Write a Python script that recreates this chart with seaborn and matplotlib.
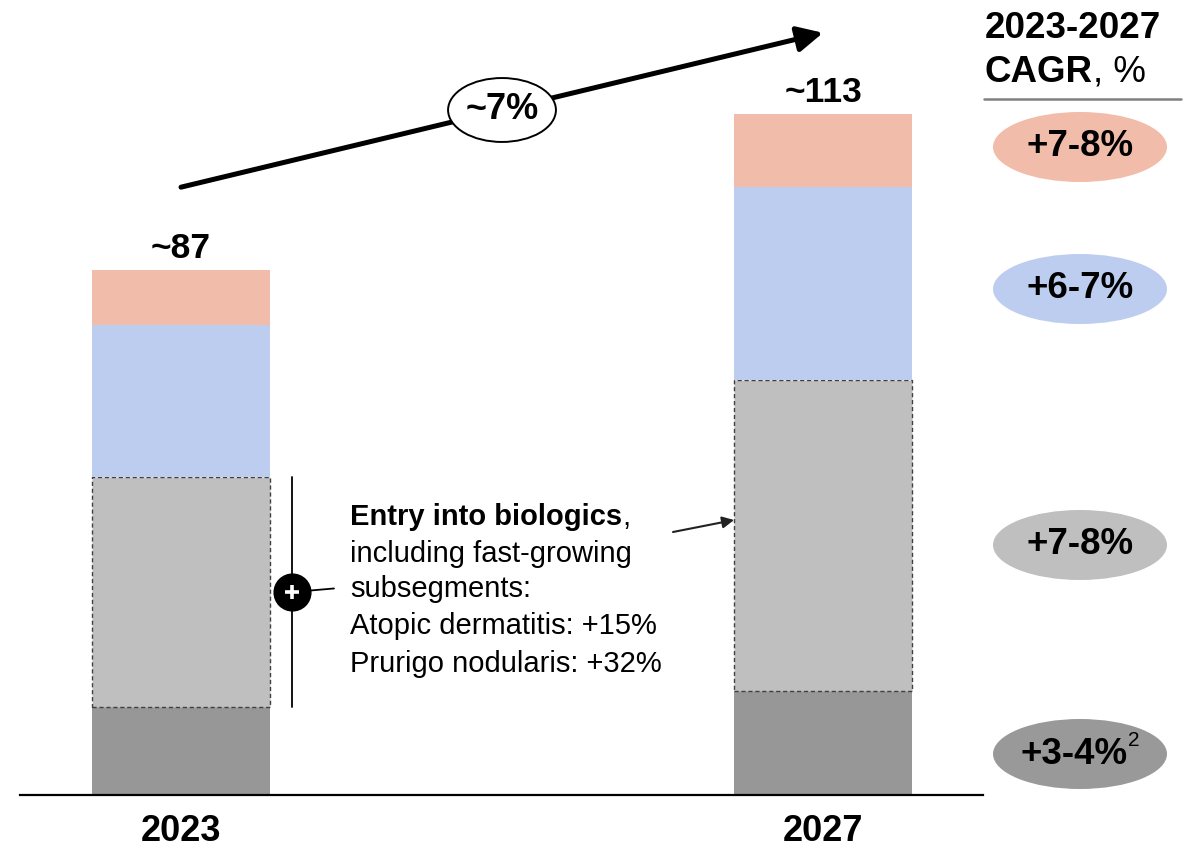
import matplotlib
matplotlib.use("Agg")
import matplotlib.pyplot as plt
from matplotlib.patches import Ellipse
import seaborn as sns
import numpy as np

# ---- data ----
years = ["2023", "2027"]
core = [14.6, 17.2]          # dark grey base segment
biologics = [38.1, 51.6]     # light grey, dashed outline
segment_blue = [25.2, 32.0]
segment_pink = [9.1, 12.2]
segment_colors = ["#979797", "#BFBFBF", "#BDCDF0", "#F2BCAA"]
cagr_labels = ["+3-4%", "+7-8%", "+6-7%", "+7-8%"]   # bottom to top
total_cagr = "~7%"
header_line1 = "2023-2027"
note_lines = ["including fast-growing", "subsegments:",
              "Atopic dermatitis: +15%", "Prurigo nodularis: +32%"]

W, H = 1195, 846
sns.set_theme(style="white")
plt.rcParams["font.family"] = ["Liberation Sans", "DejaVu Sans"]
plt.rcParams["text.color"] = "black"
plt.rcParams["xtick.color"] = "black"
plt.rcParams["xtick.labelcolor"] = "black"

fig = plt.figure(figsize=(W / 100, H / 100), dpi=100)
ax = fig.add_axes([20 / W, 51 / H, 963 / W, 795 / H])

segments = [core, biologics, segment_blue, segment_pink]
bottom = np.zeros(len(years))
for i, (vals, col) in enumerate(zip(segments, segment_colors)):
    if i == 1:
        kw = dict(edgecolor="#404040", linestyle=(0, (3, 2)), linewidth=1.0)
    else:
        kw = dict(linewidth=0)
    sns.barplot(x=years, y=vals, bottom=bottom, color=col, width=0.277,
                saturation=1, ax=ax, zorder=2, **kw)
    bottom = bottom + np.array(vals)
totals = bottom

ax.set_xlim(-161 / 642, 802 / 642)
ax.set_ylim(0, 795 / 6.03)
ax.set_ylabel("")
ax.set_yticks([])
for s in ["top", "right", "left"]:
    ax.spines[s].set_visible(False)
ax.spines["bottom"].set_color("black")
ax.spines["bottom"].set_linewidth(1.6)
ax.set_xticks(range(len(years)))
ax.set_xticklabels(years, fontsize=26, fontweight="bold", color="black")
ax.tick_params(axis="x", length=0, pad=14)

# totals above bars
for i, t in enumerate(totals):
    ax.text(i, t + 2, f"~{round(t)}", ha="center", va="baseline",
            fontsize=25.5, fontweight="bold", clip_on=False)

# overall growth arrow with CAGR bubble
start, end = (0, 100.8), (1, 126.4)
ax.annotate("", xy=end, xytext=start, annotation_clip=False,
            arrowprops=dict(arrowstyle="-|>,head_length=0.7,head_width=0.35",
                            lw=3.6, color="black", mutation_scale=22,
                            shrinkA=0, shrinkB=0))
mid = ((start[0] + end[0]) / 2, (start[1] + end[1]) / 2)
ax.add_patch(Ellipse(mid, 0.168, 10.6, facecolor="white", edgecolor="black",
                     lw=1.4, zorder=5, clip_on=False))
ax.text(mid[0], mid[1], total_cagr, ha="center", va="center", fontsize=26,
        fontweight="bold", zorder=6)

# bracket along the 2023 biologics segment
bx = (292 - 181) / 642
y0, y1 = core[0], core[0] + biologics[0]
ax.plot([bx, bx], [y0, y1], color="black", lw=1.3, zorder=3, clip_on=False)
ym = (y0 + y1) / 2
cx2 = (334 - 181) / 642
ax.plot([bx, cx2], [ym, ym + 0.6], color="black", lw=1.3, zorder=3)
ax.scatter([bx], [ym], s=700, color="black", zorder=4, clip_on=False)
ax.plot([bx], [ym], marker="+", markersize=10, markeredgewidth=2.6,
        color="white", zorder=5)

# explanatory note
tx = (350 - 181) / 642
base_y = [(795 - b) / 6.03 for b in (525, 562, 597, 634, 672)]
t0 = ax.text(tx, base_y[0], "Entry into biologics", fontsize=21,
             fontweight="bold", va="baseline", ha="left")
ax.annotate(",", xy=(1, 0), xycoords=t0, va="bottom", ha="left", fontsize=21)
for line, yb in zip(note_lines, base_y[1:]):
    ax.text(tx, yb, line, fontsize=21, va="baseline", ha="left")

# pointer to the 2027 biologics segment
ax.annotate("", xy=(1 - 0.1385, (795 - 520) / 6.03),
            xytext=((673 - 181) / 642, (795 - 532) / 6.03),
            arrowprops=dict(arrowstyle="-|>,head_length=0.5,head_width=0.25",
                            lw=1.5, color="#222222", mutation_scale=14,
                            shrinkA=0, shrinkB=0))


# right-hand CAGR column (figure pixel positions)
def fp(x, y):
    return (x / W, 1 - y / H)


fig.text(*fp(985, 28), header_line1, fontsize=26.5, fontweight="bold",
         ha="left", va="center")
c1 = fig.text(*fp(985, 72), "CAGR", fontsize=26.5, fontweight="bold",
              ha="left", va="center")
ax.annotate(", %", xy=(1, 0), xycoords=c1, va="bottom", ha="left",
            fontsize=26.5, annotation_clip=False)
fig.add_artist(plt.Line2D([984 / W, 1181 / W], [1 - 99 / H, 1 - 99 / H],
                          color="#808080", lw=1.8))

ell_y = [754, 545, 289, 147]
ell_colors = ["#999999", "#BFBFBF", "#BDCDF0", "#F2BCAA"]
for lab, yy, col in zip(cagr_labels, ell_y, ell_colors):
    fig.add_artist(Ellipse(fp(1080, yy), 174 / W, 70 / H, facecolor=col,
                           edgecolor="none", transform=fig.transFigure,
                           zorder=1))
    if lab == cagr_labels[0]:
        fig.text(*fp(1128, yy), lab, fontsize=26.5, fontweight="bold",
                 ha="right", va="center", zorder=4)
        fig.text(*fp(1128, yy - 23), "2", fontsize=15, ha="left",
                 va="top", zorder=4)
    else:
        fig.text(*fp(1080, yy), lab, fontsize=26.5, fontweight="bold",
                 ha="center", va="center", zorder=4)

fig.savefig("out.png", dpi=100)
